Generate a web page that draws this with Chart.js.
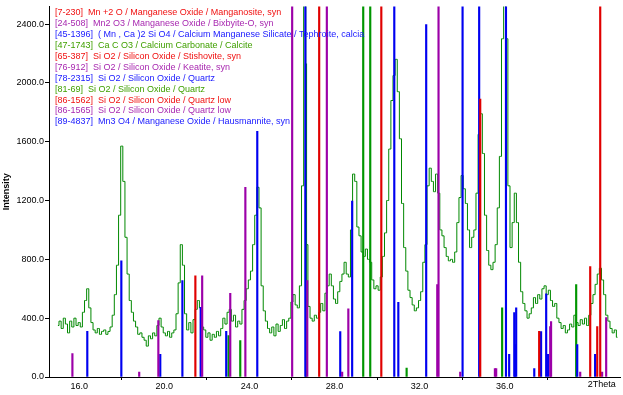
<!DOCTYPE html>
<html>
<head>
<meta charset="utf-8">
<script src="https://cdn.jsdelivr.net/npm/chart.js@4.4.1/dist/chart.umd.min.js"></script>
<style>
  html, body { margin: 0; padding: 0; background: #fff; }
</style>
</head>
<body>
<canvas id="xrd" width="623" height="395"></canvas>
<script>
const scanStart = 15.0;
const scanStep = 0.1;
const counts = [
  350, 380, 330, 400, 360, 300, 380, 340, 400, 350,
  370, 340, 440, 520, 600, 470, 370, 320, 300, 330,
  290, 310, 320, 290, 310, 340, 420, 560, 760, 1100,
  1570, 1330, 950, 700, 520, 440, 380, 340, 290, 300,
  270, 250, 210, 280, 260, 300, 280, 350, 400, 340,
  300, 280, 310, 270, 300, 320, 430, 640, 900, 760,
  430, 320, 370, 300, 390, 460, 520, 470, 340, 320,
  270, 300, 250, 290, 270, 310, 280, 330, 400, 360,
  440, 460, 380, 420, 340, 380, 360, 460, 520, 600,
  660, 720, 900, 1100, 1290, 1150, 620, 450, 380, 330,
  300, 340, 280, 360, 310, 350, 390, 330, 380, 400,
  510, 560, 490, 470, 620, 1300, 3500, 900, 480, 400,
  380, 420, 400, 440, 500, 450, 570, 620, 700, 620,
  530, 500, 580, 650, 700, 780, 700, 680, 1000, 1380,
  1330, 1020, 960, 850, 820, 870, 800, 780, 660, 600,
  620, 590, 680, 820, 980, 1200, 1550, 1880, 2050, 2160,
  1940, 1620, 1180, 880, 720, 590, 540, 490, 450, 470,
  520, 580, 780, 900, 1300, 1420, 1330, 1260, 1380, 1250,
  1000, 960, 880, 820, 790, 800, 780, 850, 1050, 1220,
  1370, 1280, 1180, 1000, 880, 950, 1000, 1250, 1650, 1790,
  1520, 1100, 860, 760, 730, 780, 900, 1150, 1500, 2300,
  2700, 2300, 1300, 880, 1050, 1250, 1050, 780, 580, 500,
  450, 400, 430, 470, 540, 500, 560, 530, 600, 620,
  560, 590, 520, 480, 500, 400, 370, 330, 350, 300,
  320, 360, 340, 420, 370, 350, 390, 360, 400, 350,
  420, 500, 560, 630, 700, 740, 660, 560, 420, 380,
  330, 300, 320, 270
];

// Reference sticks grouped by colour: 2Theta and intensity
const redTheta = [21.46, 27.28, 30.20, 34.85, 37.62, 40.02, 40.35, 40.49];
const redInt   = [688, 2600, 2600, 1890, 310, 750, 343, 2600];
const purpleTheta = [15.68, 18.82, 19.72, 21.78, 23.10, 23.81, 26.01, 26.72, 27.64, 28.36,
                     28.65, 32.83, 32.89, 33.91, 35.54, 35.60, 38.14, 38.18, 39.55, 40.58, 40.77];
const purpleInt   = [160, 34, 384, 688, 569, 1290, 2600, 655, 2600, 34,
                     463, 628, 2600, 34, 57, 57, 343, 377, 34, 34, 404];
const blueTheta = [16.38, 17.98, 19.81, 20.85, 21.71, 22.91, 24.37, 26.63, 28.27, 28.83,
                   30.81, 31.00, 32.31, 34.02, 34.80, 36.06, 36.21, 36.45, 36.49, 36.54,
                   37.39, 37.71, 37.95, 38.04, 39.41, 40.25];
const blueInt   = [311, 790, 154, 655, 474, 311, 1670, 2600, 309, 1196,
                   2600, 508, 2397, 2600, 2600, 2600, 154, 438, 221, 470,
                   57, 309, 565, 154, 221, 154];
const greenTheta = [23.02, 23.57, 26.66, 29.35, 29.68, 31.39, 35.88, 39.36];
const greenInt   = [282, 248, 2130, 2600, 2600, 61, 470, 628];

// Phase list shown top left
const phaseLabels = [
  '[7-230]  Mn +2 O / Manganese Oxide / Manganosite, syn',
  '[24-508]  Mn2 O3 / Manganese Oxide / Bixbyite-O, syn',
  '[45-1396]  ( Mn , Ca )2 Si O4 / Calcium Manganese Silicate / Tephroite, calcia',
  '[47-1743]  Ca C O3 / Calcium Carbonate / Calcite',
  '[65-387]  Si O2 / Silicon Oxide / Stishovite, syn',
  '[76-912]  Si O2 / Silicon Oxide / Keatite, syn',
  '[78-2315]  Si O2 / Silicon Oxide / Quartz',
  '[81-69]  Si O2 / Silicon Oxide / Quartz',
  '[86-1562]  Si O2 / Silicon Oxide / Quartz low',
  '[86-1565]  Si O2 / Silicon Oxide / Quartz low',
  '[89-4837]  Mn3 O4 / Manganese Oxide / Hausmannite, syn'
];

const xTicks = [16, 20, 24, 28, 32, 36, 40];
const yTicks = [0, 400, 800, 1200, 1600, 2000, 2400];

const RED = '#e00000', PURPLE = '#9c00a8', BLUE = '#0000f0', GREEN = '#009600';
const textColors = ['#f01010', '#a828b0', '#1818ff', '#40a000'];
const FONT = '"Liberation Sans", Arial, sans-serif';

const pattern = counts.map((c, i) => ({ x: scanStart + i * scanStep, y: c }));

function sticks(theta, inten) {
    return theta.map((t, i) => ({ x: t, y: inten[i] }));
}

function stickSet(theta, inten, color) {
    return {
        type: 'bar',
        data: sticks(theta, inten),
        backgroundColor: color,
        borderWidth: 0,
        barThickness: 1.5,
        grouped: false,
        order: 1
    };
}

// draws the phase list and the "2Theta" label next to the last tick
const annotations = {
    id: 'annotations',
    afterDatasetsDraw(chart) {
        const ctx = chart.ctx;
        const area = chart.chartArea;
        ctx.save();
        ctx.font = '9px ' + FONT;
        ctx.textBaseline = 'middle';
        ctx.textAlign = 'left';
        phaseLabels.forEach((label, i) => {
            ctx.fillStyle = textColors[i % 4];
            ctx.fillText(label, area.left + 6, area.top + 6.5 + i * 10.9);
        });
        ctx.fillStyle = '#000';
        const x40 = chart.scales.x.getPixelForValue(40);
        ctx.fillText('2Theta', x40 - 2, area.bottom + 8);
        ctx.restore();
    }
};

new Chart(document.getElementById('xrd'), {
    type: 'line',
    data: {
        datasets: [
            {
                type: 'line',
                data: pattern,
                borderColor: '#008800',
                borderWidth: 1,
                pointRadius: 0,
                stepped: 'middle',
                fill: false,
                order: 2
            },
            stickSet(redTheta, redInt, RED),
            stickSet(purpleTheta, purpleInt, PURPLE),
            stickSet(blueTheta, blueInt, BLUE),
            stickSet(greenTheta, greenInt, GREEN)
        ]
    },
    options: {
        responsive: false,
        animation: false,
        events: [],
        layout: { padding: { top: 6, right: 3, left: 0, bottom: 0 } },
        plugins: {
            legend: { display: false },
            tooltip: { enabled: false }
        },
        scales: {
            x: {
                type: 'linear',
                min: 14.58,
                max: 41.42,
                offset: false,
                afterBuildTicks: function(scale) {
                    scale.ticks = xTicks.map(v => ({ value: v }));
                },
                afterFit: function(scale) {
                    scale.height = 18;
                },
                grid: { display: true, drawOnChartArea: false, drawTicks: true, tickLength: 3, color: '#000' },
                border: { display: true, color: '#000', width: 1 },
                ticks: {
                    color: '#000',
                    font: { family: FONT, size: 9 },
                    padding: 1,
                    maxRotation: 0,
                    autoSkip: false,
                    callback: function(value) {
                        return value === 40 ? '' : value.toFixed(1);
                    }
                }
            },
            y: {
                type: 'linear',
                min: 0,
                max: 2520,
                afterBuildTicks: function(scale) {
                    scale.ticks = yTicks.map(v => ({ value: v }));
                },
                afterFit: function(scale) {
                    scale.width = 49;
                },
                title: {
                    display: true,
                    text: 'Intensity',
                    color: '#000',
                    font: { family: FONT, size: 9, weight: 'bold' },
                    padding: { top: 1, bottom: 0 }
                },
                grid: { display: true, drawOnChartArea: false, drawTicks: true, tickLength: 4, color: '#000' },
                border: { display: true, color: '#000', width: 1 },
                ticks: {
                    color: '#000',
                    font: { family: FONT, size: 9 },
                    padding: 1,
                    callback: function(value) {
                        return value.toFixed(1);
                    }
                }
            }
        }
    },
    plugins: [annotations]
});
</script>
</body>
</html>
